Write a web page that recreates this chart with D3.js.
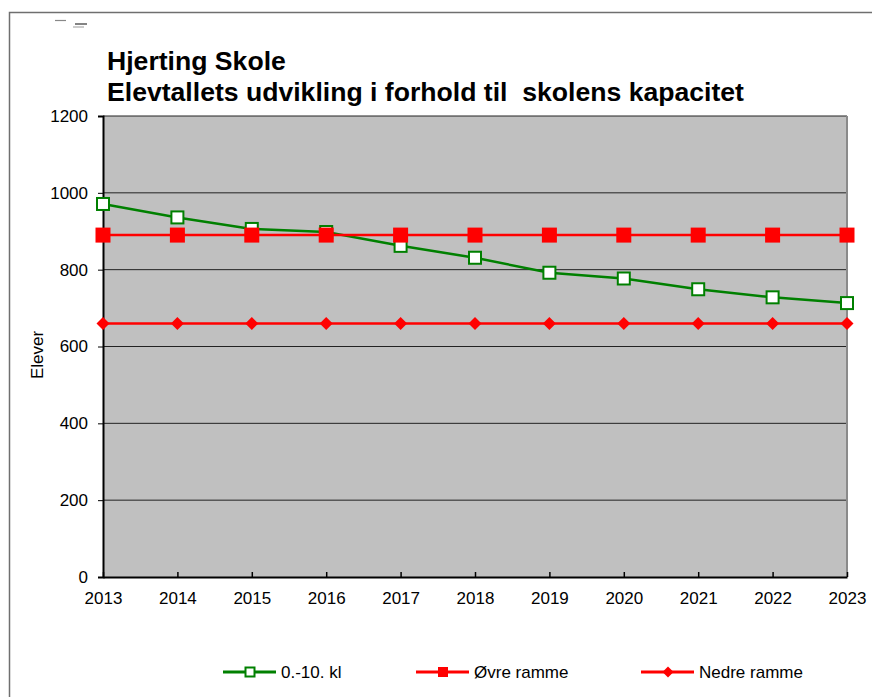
<!DOCTYPE html>
<html>
<head>
<meta charset="utf-8">
<script src="https://cdn.jsdelivr.net/npm/d3@7"></script>
<style>
  body { margin: 0; background: #fff; }
  svg text { font-family: Arial, "Liberation Sans", sans-serif; }
</style>
</head>
<body>
<script>
let years = [2013, 2014, 2015, 2016, 2017, 2018, 2019, 2020, 2021, 2022, 2023];
let elever = [971, 936, 906, 898, 862, 831, 792, 777, 749, 728, 713];
let ovreRamme = [890, 890, 890, 890, 890, 890, 890, 890, 890, 890, 890];
let nedreRamme = [660, 660, 660, 660, 660, 660, 660, 660, 660, 660, 660];
let yTicks = [0, 200, 400, 600, 800, 1000, 1200];
let seriesNames = ["0.-10. kl", "Øvre ramme", "Nedre ramme"];

let width = 872, height = 697;
let font = "Arial, 'Liberation Sans', sans-serif";
let svg = d3.select("body").append("svg")
  .attr("width", width)
  .attr("height", height);

// outer chart frame
svg.append("rect")
  .attr("x", 9.5).attr("y", 12.5)
  .attr("width", 900).attr("height", 720)
  .attr("fill", "#fff")
  .attr("stroke", "#6f6f6f")
  .attr("stroke-width", 1.5);

// leftover little dashes top-left
let dashes = [[55, 66, 20.5, "#888"], [75, 87, 24, "#333"], [73, 84, 27, "#aaa"]];
svg.append("g").selectAll("line")
  .data(dashes).enter().append("line")
  .attr("x1", d => d[0]).attr("x2", d => d[1])
  .attr("y1", d => d[2]).attr("y2", d => d[2])
  .attr("stroke", d => d[3]).attr("stroke-width", 1.2);

let x = d3.scalePoint().domain(years).range([103, 847]);
let y = d3.scaleLinear().domain([0, 1200]).range([577, 116]);

// plot background
svg.append("rect")
  .attr("x", x(2013)).attr("y", y(1200))
  .attr("width", x(2023) - x(2013)).attr("height", y(0) - y(1200))
  .attr("fill", "#c0c0c0");

// gridlines
svg.append("g").selectAll("line")
  .data(yTicks.filter(d => d > 0))
  .enter().append("line")
  .attr("x1", x(2013)).attr("x2", x(2023))
  .attr("y1", d => y(d)).attr("y2", d => y(d))
  .attr("stroke", "#222").attr("stroke-width", 1);

// right border of plot
svg.append("line")
  .attr("x1", x(2023)).attr("x2", x(2023))
  .attr("y1", y(1200)).attr("y2", y(0))
  .attr("stroke", "#8a8a8a").attr("stroke-width", 2);

// y axis
let yAxis = svg.append("g")
  .attr("transform", "translate(" + x(2013) + ",0)")
  .call(d3.axisLeft(y).tickValues(yTicks).tickFormat(d3.format("d")).tickSize(5).tickPadding(10));
yAxis.select(".domain").attr("stroke", "#000").attr("stroke-width", 2);
yAxis.selectAll(".tick line").attr("stroke", "#000");
yAxis.selectAll("text").attr("font-size", 17).attr("fill", "#000").attr("font-family", font);

// x axis
let xAxis = svg.append("g")
  .attr("transform", "translate(0," + y(0) + ")")
  .call(d3.axisBottom(x).tickSizeInner(-5).tickSizeOuter(0).tickPadding(15));
xAxis.select(".domain").attr("stroke", "#000").attr("stroke-width", 2);
xAxis.selectAll(".tick line").attr("stroke", "#000").attr("stroke-width", 1.5);
xAxis.selectAll("text").attr("font-size", 17).attr("fill", "#000").attr("font-family", font);

// y label
svg.append("text")
  .attr("transform", "translate(43,355) rotate(-90)")
  .attr("text-anchor", "middle")
  .attr("font-size", 17)
  .text("Elever");

// title
let title = svg.append("text").attr("font-size", 26.6).attr("font-weight", "bold");
title.append("tspan").attr("x", 107).attr("y", 70).text("Hjerting Skole");
title.append("tspan").attr("x", 107).attr("y", 101).text("Elevtallets udvikling i forhold til  skolens kapacitet")
  .style("white-space", "pre");

let line = d3.line().x((d, i) => x(years[i])).y(d => y(d));

function drawSquares(g, data, size, fill, stroke) {
  g.selectAll("rect.m")
    .data(data).enter().append("rect")
    .attr("class", "m")
    .attr("x", (d, i) => x(years[i]) - size / 2)
    .attr("y", d => y(d) - size / 2)
    .attr("width", size).attr("height", size)
    .attr("fill", fill)
    .attr("stroke", stroke).attr("stroke-width", 2);
}

function drawDiamonds(g, data, size, color) {
  g.selectAll("path.m")
    .data(data).enter().append("path")
    .attr("class", "m")
    .attr("d", (d, i) => {
      let cx = x(years[i]), cy = y(d), r = size / 2;
      return "M" + cx + "," + (cy - r) + "L" + (cx + r) + "," + cy + "L" + cx + "," + (cy + r) + "L" + (cx - r) + "," + cy + "Z";
    })
    .attr("fill", color);
}

// nedre ramme
let gN = svg.append("g");
gN.append("path").datum(nedreRamme).attr("d", line)
  .attr("fill", "none").attr("stroke", "#ff0000").attr("stroke-width", 2.5);
drawDiamonds(gN, nedreRamme, 13, "#ff0000");

// green series
let gE = svg.append("g");
gE.append("path").datum(elever).attr("d", line)
  .attr("fill", "none").attr("stroke", "#008000").attr("stroke-width", 2.5);
drawSquares(gE, elever, 12, "#fff", "#008000");

// øvre ramme
let gO = svg.append("g");
gO.append("path").datum(ovreRamme).attr("d", line)
  .attr("fill", "none").attr("stroke", "#ff0000").attr("stroke-width", 2.5);
drawSquares(gO, ovreRamme, 13, "#ff0000", "#ff0000");

// legend
let legendY = 672;
let legendX = [223, 416, 641];
let legend = svg.append("g");
seriesNames.forEach((name, i) => {
  let lx = legendX[i];
  let color = i === 0 ? "#008000" : "#ff0000";
  legend.append("line")
    .attr("x1", lx).attr("x2", lx + 53)
    .attr("y1", legendY).attr("y2", legendY)
    .attr("stroke", color).attr("stroke-width", 3);
  let cx = lx + 27;
  if (i === 0) {
    legend.append("rect").attr("x", cx - 4.5).attr("y", legendY - 4.5).attr("width", 9).attr("height", 9)
      .attr("fill", "#fff").attr("stroke", color).attr("stroke-width", 2);
  } else if (i === 1) {
    legend.append("rect").attr("x", cx - 5).attr("y", legendY - 5).attr("width", 10).attr("height", 10)
      .attr("fill", color);
  } else {
    legend.append("path")
      .attr("d", "M" + cx + "," + (legendY - 5.5) + "L" + (cx + 5.5) + "," + legendY + "L" + cx + "," + (legendY + 5.5) + "L" + (cx - 5.5) + "," + legendY + "Z")
      .attr("fill", color);
  }
  legend.append("text")
    .attr("x", lx + 58).attr("y", legendY + 6)
    .attr("font-size", 17)
    .text(name);
});
</script>
</body>
</html>
